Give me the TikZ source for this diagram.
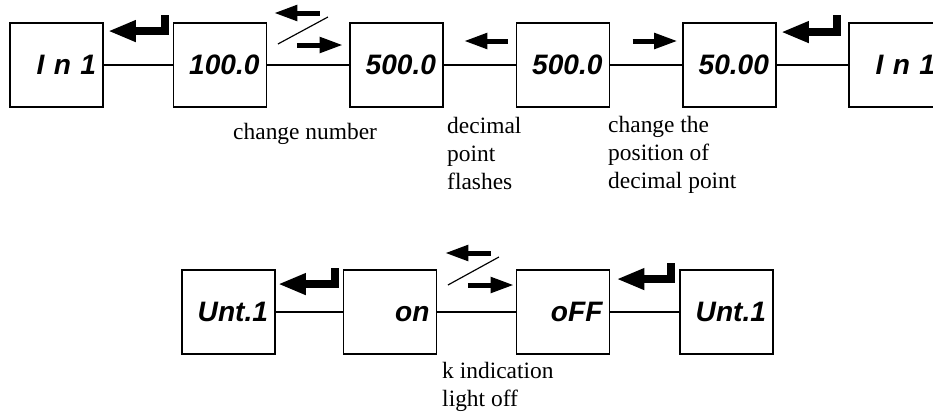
\documentclass[tikz,border=0pt]{standalone}
\usepackage{fontspec}
\setmainfont{Liberation Serif}
\setsansfont{Liberation Sans}
\usetikzlibrary{arrows.meta,calc}

\begin{document}
\begin{tikzpicture}[x=0.03cm,y=-0.03cm,
  disp/.style={draw,line width=1.6pt,minimum width=2.79cm,minimum height=2.52cm,
    text width=2.37cm,text height=17pt,text depth=0pt,align=right,inner sep=0pt,
    font=\sffamily\bfseries\itshape\fontsize{24}{24}\selectfont},
  link/.style={line width=1.3pt},
  enter/.style={line width=0.24cm,line join=miter,-{Triangle[length=0.84cm,width=0.6cm]}},
  dirarrow/.style={line width=0.15cm,-{Triangle[length=0.7cm,width=0.45cm]}},
  slash/.style={line width=1pt},
  note/.style={align=left,inner sep=0pt,anchor=north west,font=\fontsize{20}{24}\selectfont}]
\useasboundingbox (0,0) rectangle (933,412);
% upper row
\node[disp] (in1) at (56.5,65) {I n 1};
\node[disp] (val) at (220,65) {100.0};
\node[disp] (num) at (396.5,65) {500.0};
\node[disp] (pt) at (563,65) {500.0};
\node[disp] (dp) at (729.5,65) {50.00};
\node[disp] (in1b) at (895.5,65) {I n 1};
\draw[link] (in1) -- (val) (val) -- (num) (num) -- (pt) (pt) -- (dp) (dp) -- (in1b);
\draw[enter] ($(val.west)+(-8,-50)$) |- ($(in1.north east)+(4,9)$);
\draw[enter] ($(in1b.west)+(-11,-50)$) |- ($(dp.north east)+(4,10)$);
\draw[dirarrow] ($(val.east)+(52.5,-52)$) -- ($(val.east)+(6.5,-52)$);
\draw[dirarrow] ($(val.east)+(29.5,-20)$) -- ($(val.east)+(75.5,-20)$);
\draw[slash] ($(val.east)+(10.5,-21)$) -- ($(val.east)+(60.5,-48)$);
\draw[dirarrow] ($(num.east)+(64,-24)$) -- ($(num.east)+(20,-24)$);
\draw[dirarrow] ($(dp.west)+(-49.5,-24)$) -- ($(dp.west)+(-4.5,-24)$);
\node[note] (chg) at (233,123) {change number};
\node[note] (flash) at (447,117) {decimal\\point\\flashes};
\node[note] (pos) at (608,116) {change the\\position of\\decimal point};
% lower row
\node[disp] (unt) at (228.5,312) {Unt.1};
\node[disp] (on) at (390,312) {on};
\node[disp] (off) at (563,312) {oFF};
\node[disp] (untb) at (726.5,312) {Unt.1};
\draw[link] (unt) -- (on) (on) -- (off) (off) -- (untb);
\draw[enter] ($(on.west)+(-8,-44)$) |- ($(unt.north east)+(2,15)$);
\draw[enter] ($(untb.west)+(-8,-49)$) |- ($(off.north east)+(6,10)$);
\draw[dirarrow] ($(on.east)+(53.5,-59)$) -- ($(on.east)+(7.5,-59)$);
\draw[dirarrow] ($(on.east)+(30.5,-27)$) -- ($(on.east)+(76.5,-27)$);
\draw[slash] ($(on.east)+(10.5,-27)$) -- ($(on.east)+(61.5,-55)$);
\node[note] (kind) at (442,362) {k indication\\light off};
\end{tikzpicture}
\end{document}
